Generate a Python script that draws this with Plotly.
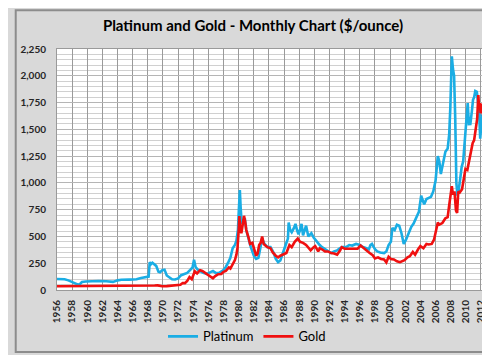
import plotly.graph_objects as go

# ---- Data (decimal year, $/ounce) ----
platinum_dates = [
    1956.0, 1956.5, 1957.0, 1957.5, 1957.9, 1958.4, 1958.9, 1959.3, 1959.8, 1960.5,
    1961.5, 1962.5, 1963.4, 1964.0, 1964.5, 1965.5, 1966.5, 1967.1, 1967.8, 1968.1,
    1968.25, 1968.4, 1968.6, 1968.9, 1969.1, 1969.4, 1969.6, 1969.9, 1970.2, 1970.5,
    1970.8, 1971.2, 1971.6, 1972.0, 1972.4, 1972.8, 1973.2, 1973.6, 1973.9, 1974.1,
    1974.3, 1974.6, 1974.9, 1975.3, 1975.8, 1976.2, 1976.6, 1977.0, 1977.4, 1977.9,
    1978.3, 1978.6, 1978.9, 1979.2, 1979.5, 1979.7, 1979.9, 1980.0, 1980.15, 1980.25,
    1980.4, 1980.6, 1980.8, 1981.0, 1981.2, 1981.6, 1982.0, 1982.3, 1982.6, 1982.9,
    1983.1, 1983.4, 1983.8, 1984.2, 1984.6, 1984.9, 1985.2, 1985.5, 1985.8, 1986.2,
    1986.5, 1986.6, 1986.8, 1987.0, 1987.3, 1987.5, 1987.7, 1987.9, 1988.1, 1988.3,
    1988.5, 1988.7, 1988.9, 1989.2, 1989.4, 1989.6, 1989.9, 1990.1, 1990.4, 1990.7,
    1991.0, 1991.4, 1991.8, 1992.2, 1992.6, 1993.0, 1993.4, 1993.7, 1994.2, 1994.6,
    1995.0, 1995.5, 1996.0, 1996.3, 1996.7, 1997.2, 1997.4, 1997.6, 1998.0, 1998.3,
    1998.7, 1999.2, 1999.5, 1999.8, 2000.1, 2000.3, 2000.6, 2000.9, 2001.2, 2001.5,
    2001.8, 2002.1, 2002.5, 2002.8, 2003.1, 2003.5, 2003.8, 2004.1, 2004.3, 2004.5,
    2004.8, 2005.0, 2005.4, 2005.7, 2006.0, 2006.3, 2006.5, 2006.7, 2006.9, 2007.1,
    2007.3, 2007.6, 2007.8, 2007.95, 2008.15, 2008.3, 2008.45, 2008.6, 2008.75, 2008.9,
    2009.05, 2009.25, 2009.45, 2009.65, 2009.9, 2010.05, 2010.25, 2010.4, 2010.6, 2010.8,
    2010.95, 2011.1, 2011.25, 2011.45, 2011.6, 2011.75, 2011.9, 2012.05, 2012.15, 2012.25,
    2012.35,
]
platinum_values = [
    102, 103, 100, 90, 80, 62, 47, 75, 80, 83,
    84, 82, 76, 90, 95, 97, 100, 112, 118, 125,
    260, 240, 255, 235, 225, 170, 165, 185, 190, 135,
    120, 100, 98, 108, 138, 150, 160, 188, 210, 282,
    215, 190, 175, 160, 150, 165, 178, 158, 160, 180,
    215, 255, 300, 390, 420, 460, 560, 720, 932, 780,
    620, 640, 670, 560, 500, 400, 320, 290, 300, 420,
    480, 430, 400, 400, 350, 290, 260, 275, 330, 420,
    480, 630, 560, 540, 580, 617, 560, 520, 560, 617,
    510, 560, 600, 500, 520, 530, 490, 470, 450, 420,
    400, 380, 360, 345, 360, 370, 390, 400, 400, 420,
    415, 430, 420, 405, 395, 380, 420, 430, 380, 360,
    350, 345, 360, 420, 450, 580, 560, 610, 600, 530,
    430, 470, 540, 590, 620, 680, 730, 880, 830, 800,
    850, 857, 870, 920, 1020, 1250, 1200, 1083, 1150, 1200,
    1290, 1320, 1450, 1700, 2181, 2063, 2000, 1600, 1000, 880,
    930, 1034, 1150, 1200, 1430, 1550, 1745, 1549, 1550, 1670,
    1776, 1800, 1858, 1851, 1780, 1670, 1413, 1551, 1640, 1518,
    1427,
]

gold_dates = [
    1956.0, 1960.6, 1960.8, 1961.0, 1967.9, 1968.3, 1968.9, 1969.3, 1969.9, 1970.5,
    1971.0, 1971.5, 1971.9, 1972.3, 1972.6, 1972.9, 1973.2, 1973.5, 1973.8, 1974.0,
    1974.2, 1974.5, 1974.9, 1975.2, 1975.5, 1975.9, 1976.3, 1976.6, 1976.9, 1977.3,
    1977.7, 1978.0, 1978.3, 1978.7, 1978.9, 1979.2, 1979.5, 1979.7, 1979.85, 1980.0,
    1980.08, 1980.2, 1980.35, 1980.55, 1980.7, 1980.85, 1981.0, 1981.3, 1981.5, 1981.8,
    1982.0, 1982.3, 1982.5, 1982.7, 1982.9, 1983.1, 1983.3, 1983.5, 1983.8, 1984.2,
    1984.5, 1984.9, 1985.2, 1985.5, 1985.9, 1986.3, 1986.7, 1987.0, 1987.4, 1987.8,
    1988.1, 1988.5, 1988.9, 1989.2, 1989.5, 1989.9, 1990.1, 1990.5, 1990.7, 1991.0,
    1991.4, 1991.8, 1992.2, 1992.6, 1993.0, 1993.4, 1993.6, 1994.0, 1994.6, 1995.2,
    1995.7, 1996.1, 1996.5, 1996.9, 1997.3, 1997.7, 1998.0, 1998.4, 1998.8, 1999.2,
    1999.5, 1999.8, 2000.1, 2000.5, 2000.9, 2001.3, 2001.6, 2001.9, 2002.3, 2002.6,
    2003.0, 2003.3, 2003.7, 2004.0, 2004.4, 2004.8, 2005.1, 2005.5, 2005.8, 2006.0,
    2006.3, 2006.5, 2006.9, 2007.3, 2007.6, 2007.8, 2008.0, 2008.15, 2008.3, 2008.5,
    2008.7, 2008.85, 2009.0, 2009.2, 2009.5, 2009.8, 2009.95, 2010.2, 2010.5, 2010.7,
    2010.9, 2011.1, 2011.3, 2011.5, 2011.65, 2011.75, 2011.85, 2011.95, 2012.1, 2012.25,
    2012.35,
]
gold_values = [
    35, 35, 40, 35, 35, 40, 42, 43, 35, 36,
    38, 41, 44, 49, 65, 64, 85, 120, 100, 130,
    175, 155, 185, 178, 165, 140, 128, 110, 130, 148,
    150, 170, 178, 210, 200, 240, 280, 330, 400, 560,
    690, 580, 530, 620, 692, 640, 560, 490, 430, 440,
    390, 320, 340, 420, 440, 500, 430, 420, 400, 390,
    350, 320, 305, 320, 330, 345, 420, 400, 450, 480,
    450, 440, 420, 390, 370, 400, 410, 360, 390, 380,
    360, 360, 345, 340, 330, 370, 400, 385, 385, 380,
    385, 415, 390, 370, 345, 325, 295, 305, 290, 285,
    258, 310, 290, 285, 268, 260, 270, 278, 305, 315,
    355, 330, 380, 410, 390, 430, 425, 430, 470, 550,
    630, 610, 625, 670, 680, 790, 900, 970, 890, 920,
    740, 720, 920, 910, 940, 1100, 1130, 1120, 1230, 1300,
    1370, 1400, 1500, 1600, 1820, 1700, 1745, 1650, 1740, 1670,
    1600,
]

year_ticks = list(range(1956, 2013, 2))
price_ticks = list(range(0, 2251, 250))

FONT = "Lato"

fig = go.Figure()
fig.add_trace(go.Scatter(x=platinum_dates, y=platinum_values, mode="lines",
                         name="Platinum", line=dict(color="#1AADE4", width=2.6)))
fig.add_trace(go.Scatter(x=gold_dates, y=gold_values, mode="lines",
                         name="Gold", line=dict(color="#F01010", width=2.6)))

# outer border of chart area
L, R, T, B = 43, 477.5, 41, 290
W, H = 490, 355
def px_x(p):
    return (p - L) / (R - L)
def px_y(p):
    return (B - p) / (B - T)

fig.add_shape(type="rect", xref="paper", yref="paper",
              x0=px_x(1), x1=px_x(489), y0=px_y(354), y1=px_y(1),
              line=dict(color="#8c8c8c", width=2), layer="below")

fig.update_layout(
    width=W, height=H,
    margin=dict(l=L, r=W - R, t=T, b=H - B),
    paper_bgcolor="#d9d9d9",
    plot_bgcolor="#ffffff",
    font=dict(family=FONT, size=10, color="#262626"),
    title=dict(text="<b>Platinum and Gold - Monthly Chart ($/ounce)</b>",
               x=0.5, xanchor="center", y=1 - 18 / H, yanchor="middle",
               font=dict(family=FONT, size=15, color="#000000")),
    showlegend=True,
    legend=dict(orientation="h", x=0.445, xanchor="center", y=px_y(338), yanchor="middle",
                bgcolor="rgba(0,0,0,0)", font=dict(family=FONT, size=13, color="#000000"),
                itemwidth=30, tracegroupgap=0),
    xaxis=dict(range=[1956, 2012.4], tickmode="array", tickvals=year_ticks,
               ticktext=[f"<b>{y}</b>" for y in year_ticks], tickangle=-90,
               showgrid=True, gridcolor="#9a9a9a", gridwidth=1,
               showline=True, linecolor="#9a9a9a", mirror=True, zeroline=False,
               ticks="outside", ticklen=5, tickcolor="rgba(0,0,0,0)",
               tickfont=dict(family=FONT, size=10, color="#262626")),
    yaxis=dict(range=[0, 2250], tickmode="array", tickvals=price_ticks,
               ticktext=[f"<b>{v:,}</b>" for v in price_ticks],
               showgrid=True, gridcolor="#b5b5b5", gridwidth=1,
               minor=dict(dtick=50, showgrid=True, gridcolor="#d0d0d0", gridwidth=1),
               showline=True, linecolor="#9a9a9a", mirror=True, zeroline=False,
               ticks="outside", ticklen=8, tickcolor="rgba(0,0,0,0)",
               tickfont=dict(family=FONT, size=10, color="#262626")),
)

fig.write_html("out.html")
